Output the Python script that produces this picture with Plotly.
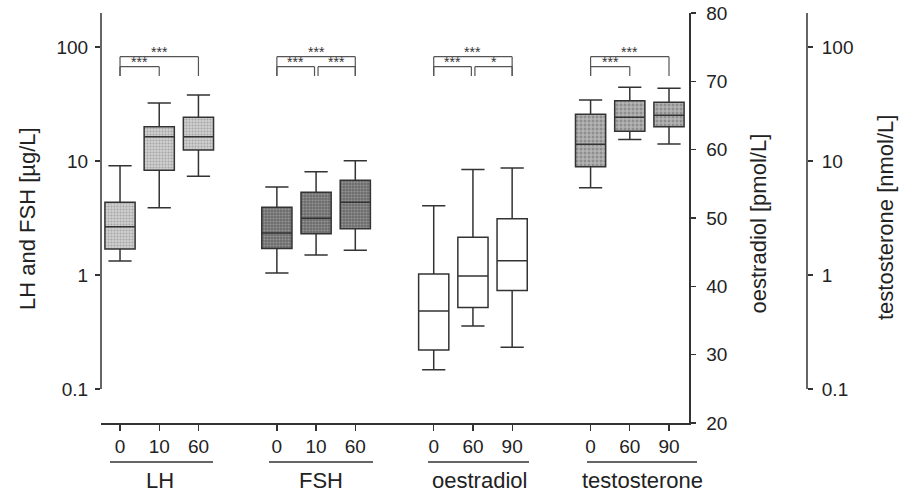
import plotly.graph_objects as go

# ---------------- data ----------------
groups = ["LH", "FSH", "oestradiol", "testosterone"]
time_labels = [["0", "10", "60"], ["0", "10", "60"], ["0", "60", "90"], ["0", "60", "90"]]

lh_lower = [1.33, 3.89, 7.34]
lh_q1 = [1.69, 8.28, 12.5]
lh_median = [2.65, 16.3, 16.3]
lh_q3 = [4.35, 20.0, 24.2]
lh_upper = [9.1, 32.3, 37.9]

fsh_lower = [1.04, 1.50, 1.65]
fsh_q1 = [1.71, 2.30, 2.54]
fsh_median = [2.33, 3.14, 4.35]
fsh_q3 = [3.93, 5.31, 6.77]
fsh_upper = [5.92, 8.05, 10.06]

oe_lower = [27.8, 34.2, 31.1]
oe_q1 = [30.7, 36.9, 39.4]
oe_median = [36.4, 41.5, 43.75]
oe_q3 = [41.8, 47.2, 49.9]
oe_upper = [51.8, 57.1, 57.3]

t_lower = [5.83, 15.4, 14.1]
t_q1 = [8.91, 18.2, 20.0]
t_median = [14.0, 24.2, 25.2]
t_q3 = [25.7, 33.8, 32.7]
t_upper = [34.3, 44.3, 43.5]

log_ticks = [0.1, 1, 10, 100]
log_tick_text = ["0.1", "1", "10", "100"]
oe_ticks = [20, 30, 40, 50, 60, 70, 80]

# significance brackets: (group, from, to, label, level)
brackets = [
    (0, 0, 2, "***", "top"), (0, 0, 1, "***", "low"),
    (1, 0, 2, "***", "top"), (1, 0, 1, "***", "low"), (1, 1, 2, "***", "low"),
    (2, 0, 2, "***", "top"), (2, 0, 1, "***", "low"), (2, 1, 2, "*", "low"),
    (3, 0, 2, "***", "top"), (3, 0, 1, "***", "low"),
]

# ---------------- styling ----------------
FONT = "Liberation Sans, Arial, Helvetica, sans-serif"
LINE = "#333333"
OFF = 0  # body margin removed by post script
W, H = 907 - OFF, 494 - OFF
L_M, R_M, T_M, B_M = 101 - OFF, 100, 13 - OFF, 71
PW = W - L_M - R_M
PH = H - T_M - B_M


def px_x(px):
    return (px - OFF - L_M) / PW


def px_y(py):
    return (H - B_M - (py - OFF)) / PH


group_series = [
    (lh_lower, lh_q1, lh_median, lh_q3, lh_upper, "y",
     dict(shape=".", bgcolor="#d0d0d0", fgcolor="#7c7c7c", size=3, solidity=0.4)),
    (fsh_lower, fsh_q1, fsh_median, fsh_q3, fsh_upper, "y",
     dict(shape=".", bgcolor="#6c6c6c", fgcolor="#c0c0c0", size=3, solidity=0.4)),
    (oe_lower, oe_q1, oe_median, oe_q3, oe_upper, "y2",
     dict(shape="", bgcolor="#ffffff", fgcolor="#ffffff", size=3, solidity=0.2)),
    (t_lower, t_q1, t_median, t_q3, t_upper, "y3",
     dict(shape="+", bgcolor="#8e8e8e", fgcolor="#f2f2f2", size=4, solidity=0.45)),
]

BOXW = 0.77
fig = go.Figure()

positions = []
for g, (lo, q1, med, q3, up, yax, pat) in enumerate(group_series):
    pos = [g * 4 + i for i in range(3)]
    positions.extend(pos)
    fig.add_trace(go.Bar(
        x=pos, y=[b - a for a, b in zip(q1, q3)], base=q1, yaxis=yax,
        width=BOXW, marker=dict(color=pat["bgcolor"], line=dict(width=0), pattern=pat),
        showlegend=False, hoverinfo="skip",
    ))

for g, (lo, q1, med, q3, up, yax, pat) in enumerate(group_series):
    pos = [g * 4 + i for i in range(3)]
    fig.add_trace(go.Box(
        x=pos, q1=q1, median=med, q3=q3, lowerfence=lo, upperfence=up, yaxis=yax,
        width=BOXW, whiskerwidth=0.77, fillcolor="rgba(0,0,0,0)",
        line=dict(color=LINE, width=1.5), boxpoints=False,
        showlegend=False, hoverinfo="skip",
    ))

tick_text = [t for tl in time_labels for t in tl]

shapes = []
annotations = []

# axis lines drawn as in the original (left & far right stop at 0.1)
shapes.append(dict(type="line", xref="paper", yref="paper", x0=0, x1=0,
                   y0=px_y(389), y1=1, line=dict(color=LINE, width=1.5)))
shapes.append(dict(type="line", xref="paper", yref="paper", x0=1, x1=1,
                   y0=px_y(389), y1=1, line=dict(color=LINE, width=1.5)))

# group lines and labels under the x axis
group_line_px = [(110, 213), (269, 373), (428, 529), (587, 697)]
group_label_px = [160, 321, 479, 642]
for g, name in enumerate(groups):
    a, b = group_line_px[g]
    shapes.append(dict(type="line", xref="paper", yref="paper",
                       x0=px_x(a), x1=px_x(b), y0=px_y(462), y1=px_y(462),
                       line=dict(color=LINE, width=1.3)))
    annotations.append(dict(xref="paper", yref="paper", x=px_x(group_label_px[g]),
                            y=px_y(480), text=name, showarrow=False,
                            xanchor="center", yanchor="middle",
                            font=dict(family=FONT, size=22, color="#222")))

# significance brackets
level_y = {"top": px_y(56.7), "low": px_y(66.7)}
leg_bottom = px_y(76)
for g, i, j, lab, lev in brackets:
    x0 = g * 4 + i
    x1 = g * 4 + j
    if lev == "low":
        if i == 1:
            x0 += 0.05
        if j == 1 and any(b[0] == g and b[1] == 1 for b in brackets):
            x1 -= 0.04
    y = level_y[lev]
    bl = dict(color="#555", width=1.2)
    shapes.append(dict(type="line", xref="x", yref="paper", x0=x0, x1=x1, y0=y, y1=y, line=bl))
    shapes.append(dict(type="line", xref="x", yref="paper", x0=x0, x1=x0, y0=y, y1=leg_bottom, line=bl))
    shapes.append(dict(type="line", xref="x", yref="paper", x0=x1, x1=x1, y0=y, y1=leg_bottom, line=bl))
    annotations.append(dict(xref="x", yref="paper", x=(x0 + x1) / 2, y=y, text=lab,
                            showarrow=False, xanchor="center", yanchor="bottom",
                            yshift=-5,
                            font=dict(family=FONT, size=14, color="#333")))

# axis titles
title_font = dict(family=FONT, size=22, color="#222")
annotations.append(dict(xref="paper", yref="paper", x=px_x(27.5), y=px_y(218.5),
                        text="LH and FSH [µg/L]", textangle=-90, showarrow=False,
                        xanchor="center", yanchor="middle", font=title_font))
annotations.append(dict(xref="paper", yref="paper", x=px_x(757.5), y=px_y(224),
                        text="oestradiol [pmol/L]", textangle=-90, showarrow=False,
                        xanchor="center", yanchor="middle", font=title_font))
annotations.append(dict(xref="paper", yref="paper", x=px_x(885.5), y=px_y(217.5),
                        text="testosterone [nmol/L]", textangle=-90, showarrow=False,
                        xanchor="center", yanchor="middle", font=title_font))

tick_font = dict(family=FONT, size=19, color="#222")
log_range = [-1.298, 2.298]
x_dom_end = px_x(689)

fig.update_layout(
    width=W, height=H,
    margin=dict(l=L_M, r=R_M, t=T_M, b=B_M, autoexpand=False),
    paper_bgcolor="white", plot_bgcolor="white",
    barmode="overlay", boxmode="overlay", bargap=0,
    showlegend=False, hovermode=False,
    font=dict(family=FONT, size=19, color="#222"),
    xaxis=dict(domain=[0, x_dom_end], range=[-0.485, 14.51], showgrid=False, zeroline=False,
               showline=True, linecolor=LINE, linewidth=1.5,
               ticks="outside", ticklen=6, tickwidth=1.3, tickcolor=LINE,
               tickvals=positions, ticktext=tick_text, tickfont=tick_font, automargin=False),
    yaxis=dict(type="log", range=log_range, domain=[0, 1], showgrid=False, zeroline=False,
               showline=False, ticks="outside", ticklen=5, tickwidth=1.3, tickcolor=LINE,
               tickvals=log_ticks, ticktext=log_tick_text, tickfont=tick_font,
               ticklabelstandoff=3, automargin=False),
    yaxis2=dict(overlaying="y", side="right", anchor="x", range=[20, 80], showgrid=False,
                zeroline=False, showline=True, linecolor=LINE, linewidth=1.5,
                ticks="outside", ticklen=5, tickwidth=1.3, tickcolor=LINE,
                tickvals=oe_ticks, tickfont=tick_font, ticklabeloverflow="allow",
                ticklabelstandoff=7, automargin=False),
    yaxis3=dict(overlaying="y", side="right", anchor="free", position=1, type="log",
                range=log_range, showgrid=False, zeroline=False, showline=False,
                ticks="outside", ticklen=5, tickwidth=1.3, tickcolor=LINE,
                tickvals=log_ticks, ticktext=log_tick_text, tickfont=tick_font,
                ticklabelstandoff=5, automargin=False),
    shapes=shapes, annotations=annotations,
)

fig.write_html(
    "out.html",
    config={"displayModeBar": False, "staticPlot": True},
    post_script="document.body.style.margin='0';document.body.style.overflow='hidden';",
)
